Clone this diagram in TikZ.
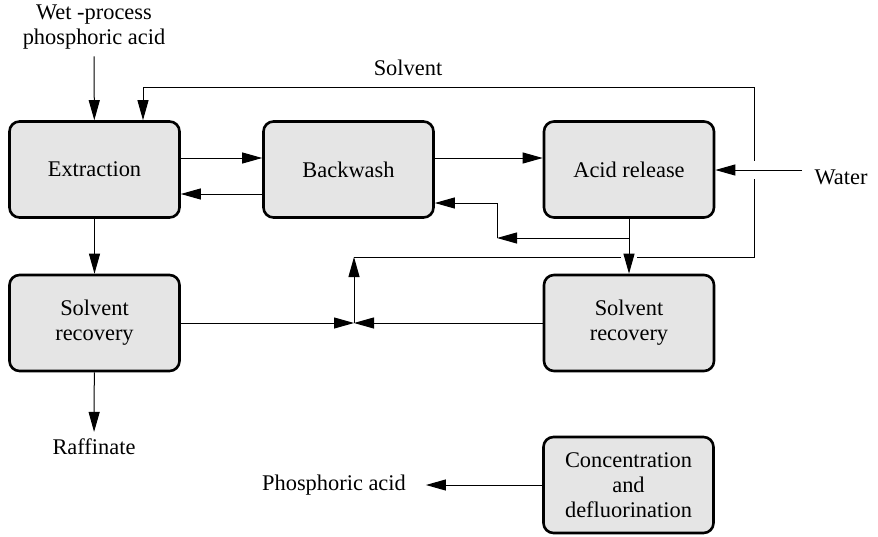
\documentclass[tikz,border=0pt]{standalone}
\usepackage{fontspec}
\setmainfont{Liberation Serif}
\usetikzlibrary{arrows.meta,calc,positioning}
\begin{document}
\begin{tikzpicture}
[x=0.5pt, y=-0.5pt, every node/.style={font=\fontsize{11.2pt}{12.5pt}\selectfont},
process node/.style={draw, line width=1.3pt, rounded corners=5pt, fill=black!10,
  minimum width=85pt, minimum height=48pt, align=center},
flow/.style={line width=0.5pt, -{Triangle[length=10pt,width=5.5pt]}}]
\useasboundingbox (0,0) rectangle (878,536);

\node[process node] (ext) at (94.5,169.5) {Extraction};
\node[process node] (bw) at (348.5,169.5) {Backwash};
\node[process node] (ar) at (629,169.5) {Acid release};
\node[process node] (sr1) at (94.5,323) {Solvent\\recovery};
\node[process node] (sr2) at (629,323) {Solvent\\recovery};
\node[process node] (cd) at (628.5,485) {Concentration\\and\\defluorination};

\node[align=center] (feed) at (94,27) {Wet -process\\phosphoric acid};
\node (solv) at (408,68) {Solvent};
\node (water) at (841,177) {Water};
\node (raff) at (94,447) {Raffinate};
\node (phos) at (334,485) {Phosphoric acid};

\coordinate (jn) at (354,323);
\coordinate (up) at (354,257);
\coordinate (rt) at (754,257);
\coordinate (tp) at (754,87);
\coordinate (win) at (802,170);
\coordinate (fk) at (629,238);
\coordinate (bend) at (497,238);

% solvent loop back to extraction
\draw[flow] (sr1) -- (jn);
\draw[flow] (sr2) -- (jn);
\draw[flow] (jn) -- (up);
\draw[flow] (up) -- (rt) -- (tp) -| ($(ext.north)+(48.5,0)$);

\draw[flow] (feed) -- (ext);
\draw[flow] (ext) -- (sr1);
\draw[flow] (sr1) -- (raff);

\draw[flow] ($(ext.east)+(0,-11.5)$) -- ($(bw.west)+(0,-11.5)$);
\draw[flow] ($(bw.west)+(0,24.5)$) -- ($(ext.east)+(0,24.5)$);
\draw[flow] ($(bw.east)+(0,-11.5)$) -- ($(ar.west)+(0,-11.5)$);

\draw[flow, preaction={draw=white, line width=9pt, -, shorten >=14pt}] (win) -- (ar.east |- win);
\draw[flow, preaction={draw=white, line width=8pt, -, shorten <=8pt, shorten >=8pt}] (ar) -- (sr2);
\draw[flow] (fk) -- (bend);
\draw[flow] (bend) |- ($(bw.east)+(0,33.5)$);

\draw[flow, shorten >=6.5pt] (cd) -- (phos);
\end{tikzpicture}
\end{document}
